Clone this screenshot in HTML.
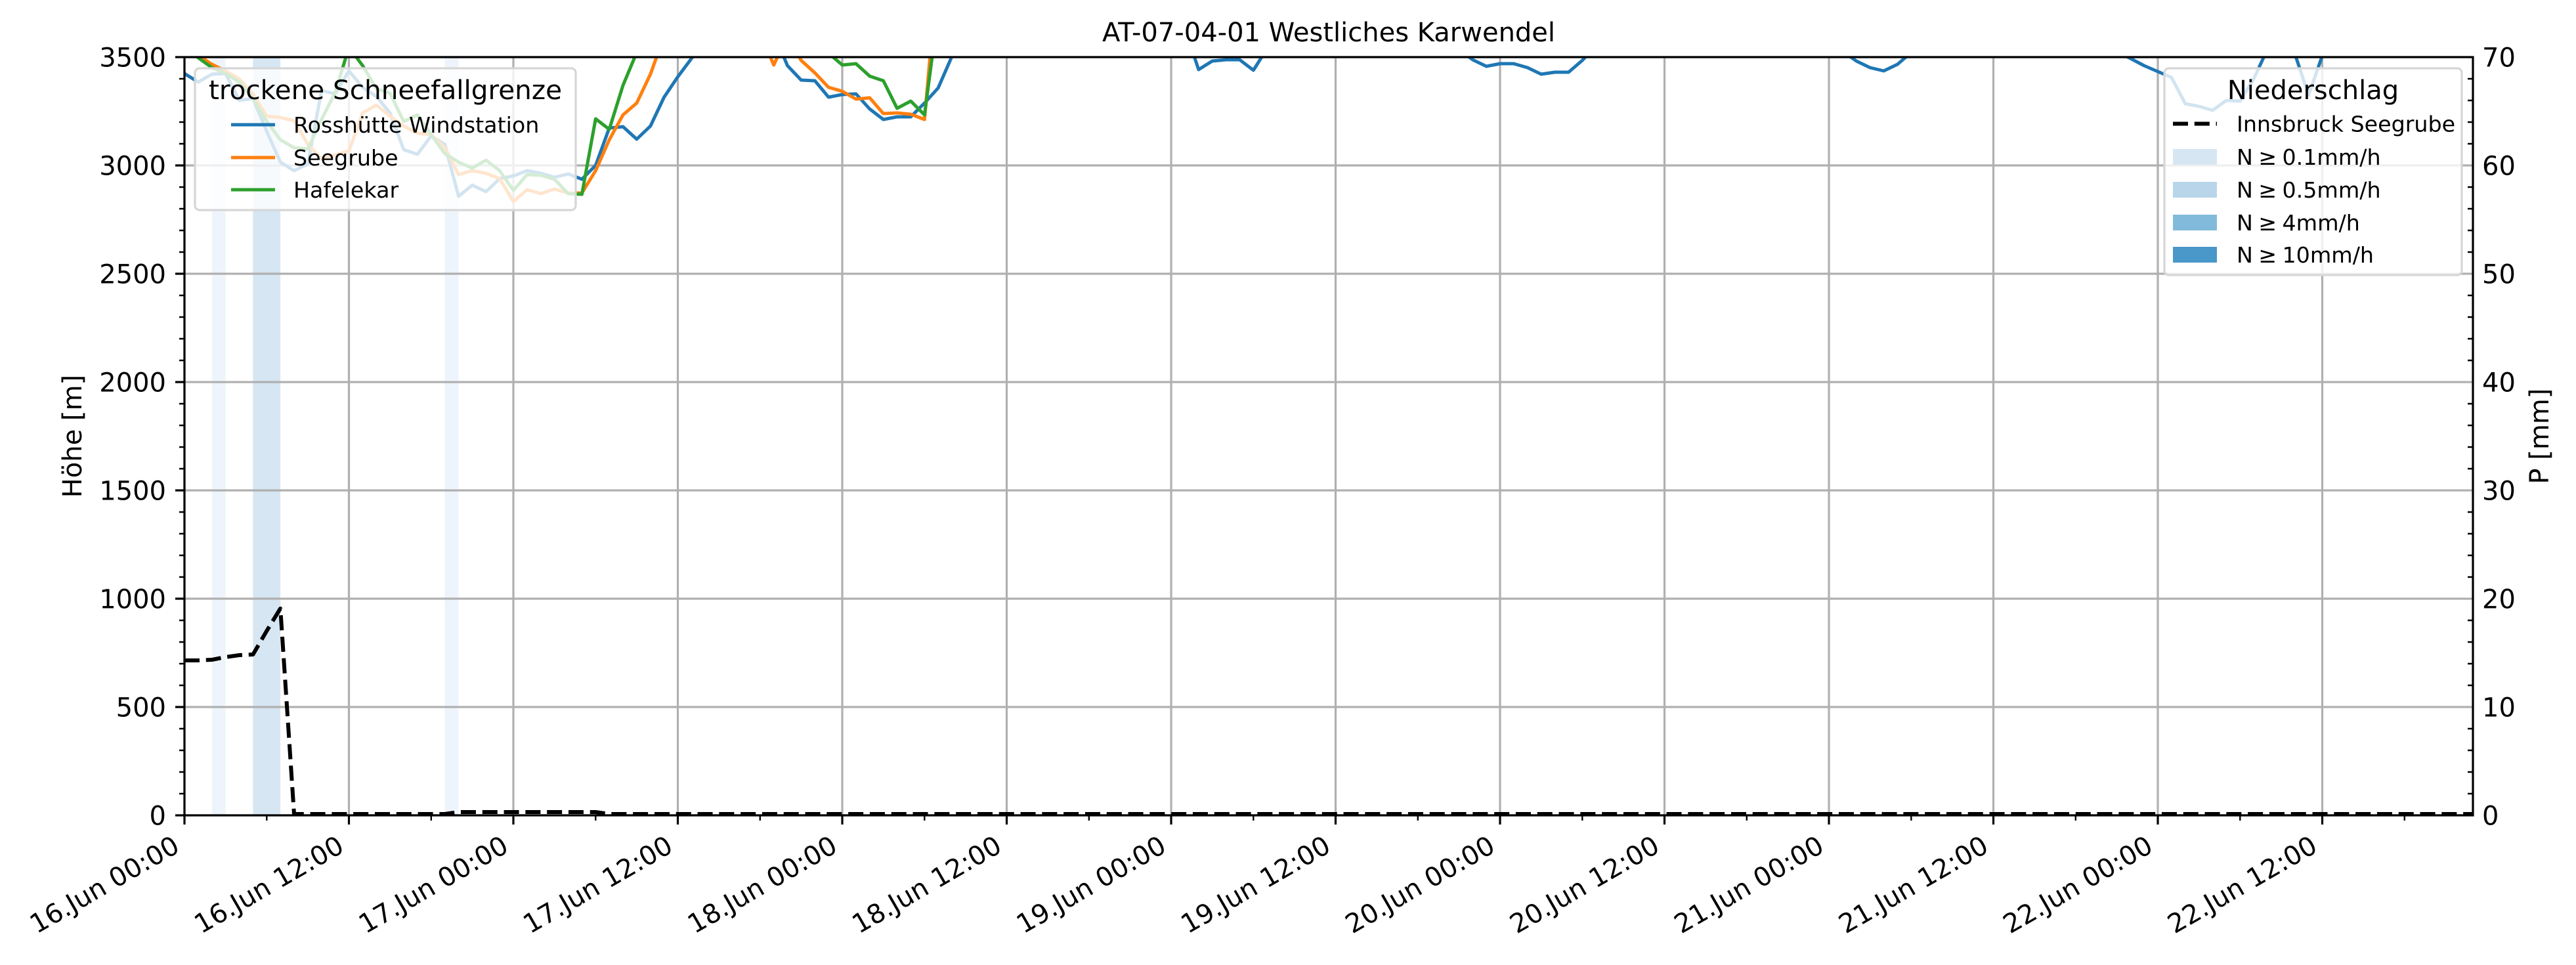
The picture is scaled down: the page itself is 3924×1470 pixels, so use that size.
<!DOCTYPE html>
<html>
<head>
<meta charset="utf-8">
<style>
  html, body { margin: 0; padding: 0; background: #ffffff; }
  svg { display: block; }
  text { font-family: "DejaVu Sans", "Liberation Sans", sans-serif; fill: #000; }
</style>
</head>
<body>
<svg width="3924" height="1470" viewBox="0 0 3924 1470" xmlns="http://www.w3.org/2000/svg">
  <defs>
    <clipPath id="ax">
      <rect x="281" y="87" width="3486" height="1155"/>
    </clipPath>
  </defs>
  <rect x="0" y="0" width="3924" height="1470" fill="#ffffff"/>

  <!-- precipitation bars -->
  <g>
    <rect x="322.8" y="87" width="20.9" height="1155" fill="#eef4fb"/>
    <rect x="385.4" y="87" width="41.7" height="1155" fill="#d6e6f3"/>
    <rect x="677.6" y="87" width="20.9" height="1155" fill="#eef4fb"/>
  </g>

  <!-- grid -->
  <g stroke="#b0b0b0" stroke-width="3.2" fill="none">
    <path d="M281,87V1242 M531.5,87V1242 M782,87V1242 M1032.5,87V1242 M1283,87V1242 M1533.5,87V1242 M1784,87V1242 M2034.5,87V1242 M2285,87V1242 M2535.5,87V1242 M2786,87V1242 M3036.5,87V1242 M3287,87V1242 M3537.5,87V1242"/>
    <path d="M281,1242H3767 M281,1077H3767 M281,912H3767 M281,747H3767 M281,582H3767 M281,417H3767 M281,252H3767 M281,87H3767"/>
  </g>

  <!-- snowfall lines -->
  <g clip-path="url(#ax)" fill="none" stroke-width="5" stroke-linejoin="round" stroke-linecap="square">
    <g stroke="#1f77b4">
      <polyline points="281,112 301.9,125 322.8,113 343.6,112 364.5,153 385.4,150 406.3,200 427.1,247 448,260 468.9,250 489.8,138 510.6,143 531.5,108 552.4,133 573.3,147 594.1,172 615,228 635.9,235 656.8,207 677.6,220 698.5,299 719.4,282 740.3,292 761.1,272 782,268 802.9,260 823.8,264 844.6,270 865.5,265 886.4,273 907.3,252 928.1,195 949,193 969.9,212 990.8,192 1011.6,148 1032.5,117 1053.4,89 1074.3,60"/>
      <polyline points="1178.6,50 1199.5,100 1220.4,122 1241.3,123 1262.1,148 1283,144 1303.9,143 1324.8,166 1345.6,182 1366.5,178 1387.4,178 1408.3,157 1429.1,134 1450,86 1470.9,40"/>
      <polyline points="1804.9,43 1825.8,106 1846.6,93 1867.5,91 1888.4,91 1909.3,107 1930.1,74"/>
      <polyline points="2222.4,75 2243.3,91 2264.1,101 2285,97 2305.9,97 2326.8,103 2347.6,113 2368.5,110 2389.4,110 2410.3,92 2431.1,70"/>
      <polyline points="2806.9,78 2827.8,93 2848.6,103 2869.5,108 2890.4,98 2911.3,80"/>
      <polyline points="3224.4,79 3245.3,89 3266.1,100 3287,109 3307.9,118 3328.8,158 3349.6,162 3370.5,168 3391.4,153 3412.3,154 3433.1,120 3454,75 3474.9,70 3495.8,82 3516.6,145 3537.5,85 3558.4,60"/>
    </g>
    <g stroke="#ff7f0e">
      <polyline points="281,62 301.9,84 322.8,98 343.6,108 364.5,120 385.4,143 406.3,177 427.1,179 448,184 468.9,220 489.8,242 510.6,236 531.5,230 552.4,172 573.3,160 594.1,177 615,192 635.9,203 656.8,205 677.6,225 698.5,266 719.4,260 740.3,264 761.1,272 782,307 802.9,289 823.8,295 844.6,288 865.5,294 886.4,294 907.3,260 928.1,213 949,175 969.9,157 990.8,113 1011.6,55"/>
      <polyline points="1157.8,49 1178.6,99 1199.5,55 1220.4,92 1241.3,111 1262.1,133 1283,139 1303.9,151 1324.8,149 1345.6,173 1366.5,172 1387.4,174 1408.3,182 1429.1,-55"/>
    </g>
    <g stroke="#2ca02c">
      <polyline points="281,70 301.9,88 322.8,103 343.6,112 364.5,125 385.4,150 406.3,185 427.1,213 448,225 468.9,227 489.8,182 510.6,141 531.5,72 552.4,100 573.3,135 594.1,142 615,185 635.9,175 656.8,205 677.6,234 698.5,247 719.4,256 740.3,244 761.1,260 782,290 802.9,266 823.8,267 844.6,273 865.5,295 886.4,296 907.3,181 928.1,197 949,130 969.9,80 990.8,50"/>
      <polyline points="1241.3,60 1262.1,81 1283,99 1303.9,97 1324.8,116 1345.6,123 1366.5,165 1387.4,154 1408.3,175 1429.1,18"/>
    </g>
  </g>

  <!-- left legend -->
  <g>
    <rect x="297" y="104" width="580" height="216" rx="7" ry="7" fill="rgba(255,255,255,0.8)" stroke="#d6d6d6" stroke-width="3.2"/>
    <text x="587" y="151" font-size="40.5" text-anchor="middle">trockene Schneefallgrenze</text>
    <line x1="352" y1="190" x2="419" y2="190" stroke="#1f77b4" stroke-width="5"/>
    <line x1="352" y1="240" x2="419" y2="240" stroke="#ff7f0e" stroke-width="5"/>
    <line x1="352" y1="289" x2="419" y2="289" stroke="#2ca02c" stroke-width="5"/>
    <text x="447" y="202" font-size="33.3">Rosshütte Windstation</text>
    <text x="447" y="252" font-size="33.3">Seegrube</text>
    <text x="447" y="301" font-size="33.3">Hafelekar</text>
  </g>

  <!-- precipitation dashed line -->
  <g clip-path="url(#ax)">
    <polyline fill="none" stroke="#000" stroke-width="6" stroke-dasharray="23 9.8" stroke-linejoin="round"
      points="281,1006 301.9,1006 322.8,1005 343.6,1001 364.5,998 385.4,997 406.3,961 427.1,927 448,1240 677.6,1240 698.5,1237 907.3,1237 928.1,1240 3767,1240"/>
  </g>

  <!-- spines -->
  <rect x="281" y="87" width="3486" height="1155" fill="none" stroke="#000" stroke-width="3.2"/>

  <!-- ticks -->
  <g stroke="#000" fill="none">
    <path stroke-width="3.2" d="M267,1242H281 M267,1077H281 M267,912H281 M267,747H281 M267,582H281 M267,417H281 M267,252H281 M267,87H281"/>
    <path stroke-width="2.4" d="M273,1209H281 M273,1176H281 M273,1143H281 M273,1110H281 M273,1044H281 M273,1011H281 M273,978H281 M273,945H281 M273,879H281 M273,846H281 M273,813H281 M273,780H281 M273,714H281 M273,681H281 M273,648H281 M273,615H281 M273,549H281 M273,516H281 M273,483H281 M273,450H281 M273,384H281 M273,351H281 M273,318H281 M273,285H281 M273,219H281 M273,186H281 M273,153H281 M273,120H281"/>
    <path stroke-width="2.4" d="M3759,1209H3767 M3759,1176H3767 M3759,1143H3767 M3759,1110H3767 M3759,1044H3767 M3759,1011H3767 M3759,978H3767 M3759,945H3767 M3759,879H3767 M3759,846H3767 M3759,813H3767 M3759,780H3767 M3759,714H3767 M3759,681H3767 M3759,648H3767 M3759,615H3767 M3759,549H3767 M3759,516H3767 M3759,483H3767 M3759,450H3767 M3759,384H3767 M3759,351H3767 M3759,318H3767 M3759,285H3767 M3759,219H3767 M3759,186H3767 M3759,153H3767 M3759,120H3767"/>
    <path stroke-width="3.2" d="M281,1242V1256 M531.5,1242V1256 M782,1242V1256 M1032.5,1242V1256 M1283,1242V1256 M1533.5,1242V1256 M1784,1242V1256 M2034.5,1242V1256 M2285,1242V1256 M2535.5,1242V1256 M2786,1242V1256 M3036.5,1242V1256 M3287,1242V1256 M3537.5,1242V1256"/>
    <path stroke-width="2.4" d="M406.3,1242V1250 M656.8,1242V1250 M907.3,1242V1250 M1157.8,1242V1250 M1408.3,1242V1250 M1658.8,1242V1250 M1909.3,1242V1250 M2159.8,1242V1250 M2410.3,1242V1250 M2660.8,1242V1250 M2911.3,1242V1250 M3161.8,1242V1250 M3412.3,1242V1250 M3662.8,1242V1250"/>
  </g>

  <!-- left tick labels -->
  <g font-size="40" text-anchor="end">
    <text x="253" y="1256.5">0</text>
    <text x="253" y="1091.5">500</text>
    <text x="253" y="926.5">1000</text>
    <text x="253" y="761.5">1500</text>
    <text x="253" y="596.5">2000</text>
    <text x="253" y="431.5">2500</text>
    <text x="253" y="266.5">3000</text>
    <text x="253" y="101.5">3500</text>
  </g>

  <!-- right tick labels -->
  <g font-size="40" text-anchor="start">
    <text x="3781" y="1256.5">0</text>
    <text x="3781" y="1091.5">10</text>
    <text x="3781" y="926.5">20</text>
    <text x="3781" y="761.5">30</text>
    <text x="3781" y="596.5">40</text>
    <text x="3781" y="431.5">50</text>
    <text x="3781" y="266.5">60</text>
    <text x="3781" y="101.5">70</text>
  </g>

  <!-- x tick labels -->
  <g font-size="40" text-anchor="end">
    <text transform="translate(276,1296) rotate(-30)">16.Jun 00:00</text>
    <text transform="translate(526.5,1296) rotate(-30)">16.Jun 12:00</text>
    <text transform="translate(777,1296) rotate(-30)">17.Jun 00:00</text>
    <text transform="translate(1027.5,1296) rotate(-30)">17.Jun 12:00</text>
    <text transform="translate(1278,1296) rotate(-30)">18.Jun 00:00</text>
    <text transform="translate(1528.5,1296) rotate(-30)">18.Jun 12:00</text>
    <text transform="translate(1779,1296) rotate(-30)">19.Jun 00:00</text>
    <text transform="translate(2029.5,1296) rotate(-30)">19.Jun 12:00</text>
    <text transform="translate(2280,1296) rotate(-30)">20.Jun 00:00</text>
    <text transform="translate(2530.5,1296) rotate(-30)">20.Jun 12:00</text>
    <text transform="translate(2781,1296) rotate(-30)">21.Jun 00:00</text>
    <text transform="translate(3031.5,1296) rotate(-30)">21.Jun 12:00</text>
    <text transform="translate(3282,1296) rotate(-30)">22.Jun 00:00</text>
    <text transform="translate(3532.5,1296) rotate(-30)">22.Jun 12:00</text>
  </g>

  <!-- axis labels and title -->
  <text font-size="40" text-anchor="middle" transform="translate(124,664.5) rotate(-90)">Höhe [m]</text>
  <text font-size="40" text-anchor="middle" transform="translate(3882,664.5) rotate(-90)">P [mm]</text>
  <text x="2024" y="63" font-size="40" text-anchor="middle">AT-07-04-01 Westliches Karwendel</text>

  <!-- right legend -->
  <g>
    <rect x="3297" y="104" width="453" height="315" rx="7" ry="7" fill="rgba(255,255,255,0.8)" stroke="#d6d6d6" stroke-width="3.2"/>
    <text x="3523.5" y="151" font-size="40" text-anchor="middle">Niederschlag</text>
    <line x1="3310" y1="188.5" x2="3377" y2="188.5" stroke="#000" stroke-width="6" stroke-dasharray="23 9.8"/>
    <rect x="3310" y="227" width="67" height="24" fill="#d6e6f3"/>
    <rect x="3310" y="277" width="67" height="24" fill="#b8d5ea"/>
    <rect x="3310" y="327" width="67" height="24" fill="#82badb"/>
    <rect x="3310" y="376" width="67" height="24" fill="#4a97c9"/>
    <text x="3407" y="200.5" font-size="33.3">Innsbruck Seegrube</text>
    <text x="3407" y="251" font-size="33.3">N&#8197;≥&#8197;0.1mm/h</text>
    <text x="3407" y="301" font-size="33.3">N&#8197;≥&#8197;0.5mm/h</text>
    <text x="3407" y="351" font-size="33.3">N&#8197;≥&#8197;4mm/h</text>
    <text x="3407" y="400" font-size="33.3">N&#8197;≥&#8197;10mm/h</text>
  </g>
</svg>
</body>
</html>
